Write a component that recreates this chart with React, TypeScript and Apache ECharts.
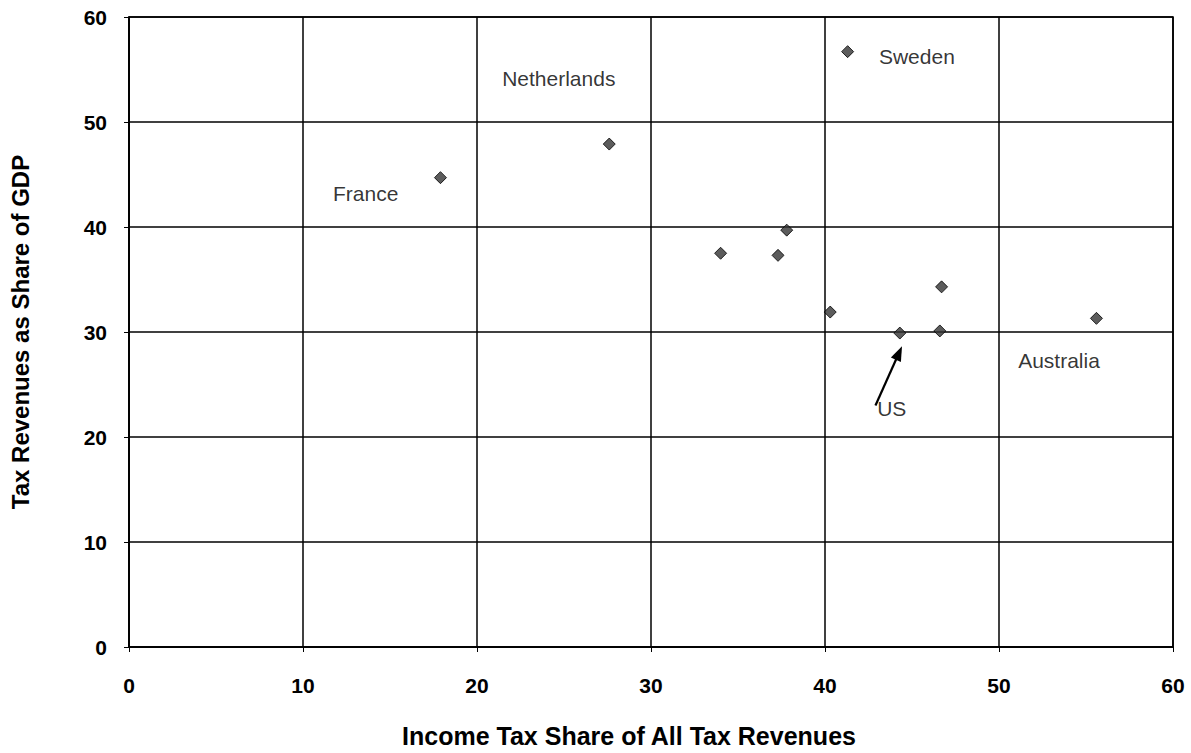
import React, { useEffect, useRef } from "react";
import * as echarts from "echarts";

const incomeTaxShare = [17.9, 27.6, 41.3, 34.0, 37.3, 37.8, 40.3, 44.3, 46.6, 46.7, 55.6];
const taxRevenueGdp = [44.7, 47.9, 56.7, 37.5, 37.3, 39.7, 31.9, 29.9, 30.1, 34.3, 31.3];

const labelNames = ["France", "Netherlands", "Sweden", "Australia", "US"];
const labelX = [13.6, 24.7, 43.1, 51.1, 43.0];
const labelY = [43.2, 54.1, 56.2, 27.3, 22.7];
const labelAlign = ["center", "center", "left", "left", "left"];

const arrowFrom = [42.9, 23.0];
const arrowTo = [44.25, 28.0];

const xTicks = [0, 10, 20, 30, 40, 50, 60];
const yTicks = [0, 10, 20, 30, 40, 50, 60];

const FONT = "'Liberation Sans', Arial, sans-serif";

export default function App() {
  const ref = useRef<HTMLDivElement>(null);
  useEffect(() => {
    if (!ref.current) return;
    const chart = echarts.init(ref.current, undefined, { renderer: "svg" });
    const points = incomeTaxShare.map((x, i) => [x, taxRevenueGdp[i]]);
    const labels = labelNames.map((n, i) => ({
      value: [labelX[i], labelY[i]],
      name: n,
      label: { align: labelAlign[i] as any },
    }));
    chart.setOption({
      animation: false,
      backgroundColor: "#ffffff",
      grid: { left: 128, right: 18, top: 17, bottom: 102, show: true, borderColor: "#000", borderWidth: 1.6, backgroundColor: "transparent" },
      xAxis: {
        type: "value",
        min: xTicks[0],
        max: xTicks[xTicks.length - 1],
        interval: 10,
        name: "Income Tax Share of All Tax Revenues",
        nameLocation: "middle",
        nameGap: 76,
        nameTextStyle: { fontFamily: FONT, fontWeight: "bold", fontSize: 25, color: "#000", padding: [0, 44, 0, 0] },
        axisLine: { lineStyle: { color: "#000", width: 1.6 } },
        axisTick: { show: true, length: 5, lineStyle: { color: "#000" } },
        axisLabel: { fontFamily: FONT, fontWeight: "bold", fontSize: 21, color: "#000", margin: 28 },
        splitLine: { lineStyle: { color: "#000", width: 1.5 } },
      },
      yAxis: {
        type: "value",
        min: yTicks[0],
        max: yTicks[yTicks.length - 1],
        interval: 10,
        name: "Tax Revenues as Share of GDP",
        nameLocation: "middle",
        nameGap: 97,
        nameTextStyle: { fontFamily: FONT, fontWeight: "bold", fontSize: 24, color: "#000" },
        axisLine: { show: true, lineStyle: { color: "#000", width: 1.6 } },
        axisTick: { show: true, length: 5, lineStyle: { color: "#000" } },
        axisLabel: { fontFamily: FONT, fontWeight: "bold", fontSize: 21, color: "#000", margin: 22 },
        splitLine: { lineStyle: { color: "#000", width: 1.5 } },
      },
      series: [
        {
          type: "scatter",
          data: points,
          symbol: "diamond",
          symbolSize: 12,
          itemStyle: { color: "#333", borderColor: "#000", borderWidth: 1 },
          z: 5,
          markLine: {
            silent: true,
            symbol: ["none", "triangle"],
            symbolSize: [11, 15],
            lineStyle: { color: "#000", width: 2.2, type: "solid" },
            label: { show: false },
            data: [[{ coord: arrowFrom }, { coord: arrowTo }]],
          },
        },
        {
          type: "scatter",
          data: labels,
          symbolSize: 0,
          silent: true,
          label: {
            show: true,
            position: "inside",
            formatter: (p: any) => p.name,
            fontFamily: FONT,
            fontSize: 21,
            color: "#000",
            verticalAlign: "middle",
          },
        },
      ],
    });
    return () => chart.dispose();
  }, []);
  return <div ref={ref} style={{ width: 1191, height: 753, position: "absolute", left: 0, top: 0 }} />;
}
